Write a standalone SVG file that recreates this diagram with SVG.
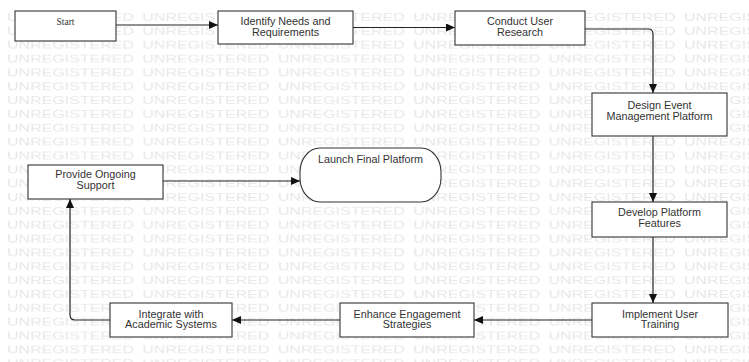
<svg xmlns="http://www.w3.org/2000/svg" width="749" height="362" viewBox="0 0 749 362">
<style>
.box{fill:#fff;stroke:#333;stroke-width:1.1}
.lbl{font-family:"Liberation Sans",Arial,sans-serif;font-size:10.8px;fill:#333;text-anchor:middle}
.ser{font-family:"Liberation Serif","Times New Roman",serif;font-size:9.5px;fill:#333;text-anchor:middle}
.edge{fill:none;stroke:#222;stroke-width:1.2;marker-end:url(#ah)}
.wm{font-family:"Liberation Sans",Arial,sans-serif;font-size:11.6px;fill:#e7e7e7}
</style>
<defs>
<marker id="ah" markerUnits="userSpaceOnUse" markerWidth="9" markerHeight="8" refX="9" refY="4" orient="auto">
<path d="M0,0 L9,4 L0,8 z" fill="#111"/>
</marker>
<pattern id="wmp" patternUnits="userSpaceOnUse" x="7" y="11" width="135.4" height="13.85">
<text class="wm" x="0" y="9.6" textLength="127" lengthAdjust="spacingAndGlyphs">UNREGISTERED</text>
</pattern>
</defs>
<rect width="749" height="362" fill="#fff"/>
<rect x="7" y="11" width="742" height="351" fill="url(#wmp)"/>
<g id="connectors">
<path class="edge" d="M116,25 H218"/>
<path class="edge" d="M353,27.5 H455"/>
<path class="edge" d="M585,29 H648 Q653,29 653,34 V93"/>
<path class="edge" d="M653,136 V202"/>
<path class="edge" d="M653,237 V303"/>
<path class="edge" d="M592,320 H474"/>
<path class="edge" d="M340,320 H232"/>
<path class="edge" d="M110,320 H75 Q70,320 70,315 V199"/>
<path class="edge" d="M163,181 H300"/>
</g>
<g id="start">
<rect class="box" x="15" y="11" width="101" height="30"/>
<text class="ser" x="65.5" y="25">Start</text>
</g>
<g id="identify">
<rect class="box" x="218" y="11" width="135" height="33"/>
<text class="lbl" x="285.5" y="25">Identify Needs and</text>
<text class="lbl" x="285.5" y="35.5">Requirements</text>
</g>
<g id="conduct">
<rect class="box" x="455" y="11" width="130" height="34"/>
<text class="lbl" x="520" y="25">Conduct User</text>
<text class="lbl" x="520" y="35.5">Research</text>
</g>
<g id="design">
<rect class="box" x="592" y="93" width="135" height="43"/>
<text class="lbl" x="659.5" y="109">Design Event</text>
<text class="lbl" x="659.5" y="119.5">Management Platform</text>
</g>
<g id="develop">
<rect class="box" x="592" y="202" width="135" height="35"/>
<text class="lbl" x="659.5" y="216">Develop Platform</text>
<text class="lbl" x="659.5" y="226.5">Features</text>
</g>
<g id="implement">
<rect class="box" x="592" y="303" width="136" height="34"/>
<text class="lbl" x="660" y="317.5">Implement User</text>
<text class="lbl" x="660" y="328">Training</text>
</g>
<g id="enhance">
<rect class="box" x="340" y="303" width="134" height="34"/>
<text class="lbl" x="407" y="317.5">Enhance Engagement</text>
<text class="lbl" x="407" y="328">Strategies</text>
</g>
<g id="integrate">
<rect class="box" x="110" y="303" width="122" height="34"/>
<text class="lbl" x="171" y="317.5">Integrate with</text>
<text class="lbl" x="171" y="328">Academic Systems</text>
</g>
<g id="provide">
<rect class="box" x="28" y="165" width="135" height="34"/>
<text class="lbl" x="95.5" y="178">Provide Ongoing</text>
<text class="lbl" x="95.5" y="188.5">Support</text>
</g>
<g id="launch">
<rect class="box" x="300" y="148" width="141" height="54" rx="20" ry="24" stroke-width="1.4"/>
<text class="lbl" x="370.5" y="163">Launch Final Platform</text>
</g>
</svg>
